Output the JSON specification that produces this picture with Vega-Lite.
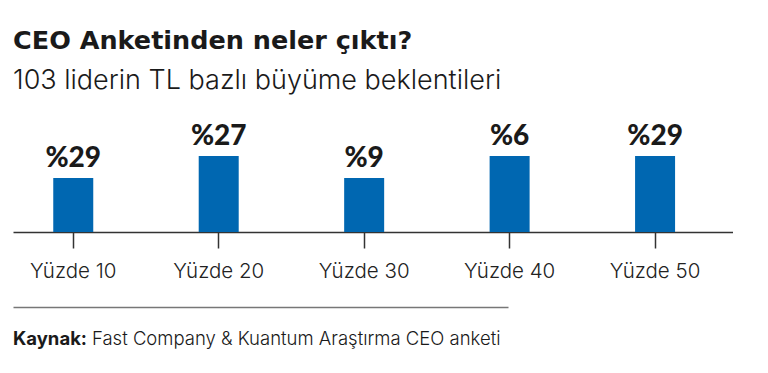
{
  "$schema": "https://vega.github.io/schema/vega-lite/v6.json",
  "background": "white",
  "padding": {"left": 13, "top": 28, "right": 0, "bottom": 0},
  "title": {
    "text": "CEO Anketinden neler çıktı?",
    "subtitle": "103 liderin TL bazlı büyüme beklentileri",
    "anchor": "start",
    "font": "DejaVu Sans",
    "fontSize": 25.5,
    "fontWeight": "bold",
    "color": "#1a1a1a",
    "subtitleFont": "Inter",
    "subtitleFontSize": 27,
    "subtitleFontWeight": 300,
    "subtitleColor": "#1a1a1a",
    "subtitlePadding": 14,
    "offset": 26
  },
  "config": {"view": {"stroke": null}},
  "spacing": 25,
  "vconcat": [
    {
      "width": 720,
      "height": 112,
      "data": {
        "values": [
          {"kategori": "Yüzde 10", "etiket": "%29", "bar": 54},
          {"kategori": "Yüzde 20", "etiket": "%27", "bar": 76},
          {"kategori": "Yüzde 30", "etiket": "%9", "bar": 54},
          {"kategori": "Yüzde 40", "etiket": "%6", "bar": 76},
          {"kategori": "Yüzde 50", "etiket": "%29", "bar": 76}
        ]
      },
      "encoding": {
        "x": {
          "field": "kategori",
          "type": "nominal",
          "sort": null,
          "scale": {"paddingInner": 0.725, "paddingOuter": 0.3375, "align": 0.41},
          "axis": {
            "title": null,
            "domainColor": "#333333",
            "domainWidth": 1.5,
            "tickColor": "#333333",
            "tickWidth": 1.5,
            "tickSize": 16,
            "labelFont": "Inter",
            "labelFontSize": 20.5,
            "labelFontWeight": 300,
            "labelColor": "#222222",
            "labelPadding": 13,
            "labelAngle": 0
          }
        },
        "y": {
          "field": "bar",
          "type": "quantitative",
          "scale": {"domain": [0, 112]},
          "axis": null
        }
      },
      "layer": [
        {"mark": {"type": "bar", "color": "#0067b1"}},
        {
          "mark": {
            "type": "text",
            "baseline": "bottom",
            "dy": -5,
            "font": "Lato",
            "fontSize": 28,
            "fontWeight": 900,
            "color": "#1a1a1a"
          },
          "encoding": {"text": {"field": "etiket"}}
        }
      ]
    },
    {
      "width": 495,
      "height": 64,
      "data": {
        "values": [
          {"parca": "Kaynak:", "kalin": "bold"},
          {"parca": "Fast Company & Kuantum Araştırma CEO anketi", "kalin": "normal"}
        ]
      },
      "encoding": {
        "x": {
          "datum": 0,
          "type": "quantitative",
          "scale": {"domain": [0, 1]},
          "axis": {
            "orient": "top",
            "title": null,
            "labels": false,
            "ticks": false,
            "grid": false,
            "domainColor": "#777777",
            "domainWidth": 1.5
          }
        }
      },
      "layer": [
        {
          "transform": [{"filter": "datum.kalin === 'bold'"}],
          "mark": {"type": "text", "align": "left", "baseline": "middle", "font": "Inter", "fontSize": 18.5, "fontWeight": "bold", "color": "#1a1a1a"},
          "encoding": {"text": {"field": "parca"}}
        },
        {
          "transform": [{"filter": "datum.kalin === 'normal'"}],
          "mark": {"type": "text", "align": "left", "baseline": "middle", "dx": 79, "font": "Inter", "fontSize": 18.5, "fontWeight": 300, "color": "#1a1a1a"},
          "encoding": {"text": {"field": "parca"}}
        }
      ]
    }
  ]
}
